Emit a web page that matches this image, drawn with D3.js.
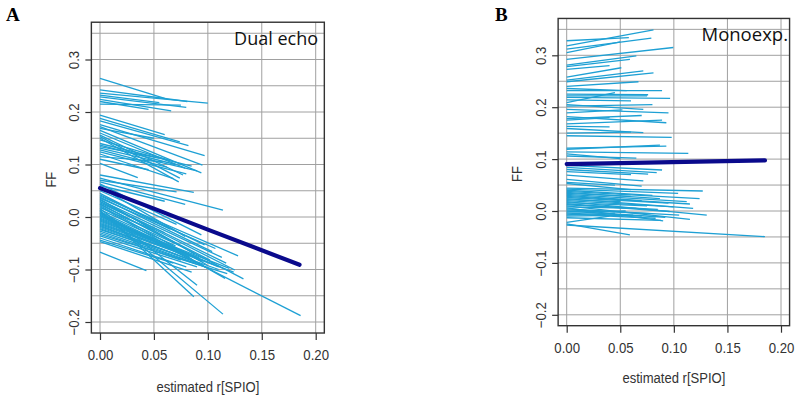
<!DOCTYPE html>
<html><head><meta charset="utf-8">
<script src="https://cdn.jsdelivr.net/npm/d3@7"></script>
<style>body{margin:0;background:#fff}svg{display:block}</style>
</head><body>
<svg id="c" width="800" height="400"></svg>
<script>
// ---------- data ----------
const xTicks = [0, 0.05, 0.10, 0.15, 0.20];
const xTickLabels = ["0.00", "0.05", "0.10", "0.15", "0.20"];
const yTicks = [-0.2, -0.1, 0.0, 0.1, 0.2, 0.3];
const yTickLabels = ["\u22120.2", "\u22120.1", "0.0", "0.1", "0.2", "0.3"];
const gridX = [0, 0.05, 0.10, 0.15, 0.20];
const gridY = [-0.2, -0.15, -0.1, -0.05, 0, 0.05, 0.1, 0.15, 0.2, 0.25, 0.3, 0.35];
const panelLetters = ["A", "B"];
const panelTitles = ["Dual echo", "Monoexp."];
const xTitle = "estimated r[SPIO]";
const yTitle = "FF";

// Panel A individual lines: FF at r=0, end r, end FF
const aStartFF = [0.264,0.242,0.236,0.229,0.224,0.220,0.215,0.232,
 0.194,0.188,0.183,0.176,0.172,0.169,0.165,0.160,0.156,0.153,0.150,0.147,0.140,0.137,0.134,0.131,0.128,0.124,0.120,0.115,0.110,0.102,
 0.080,0.074,0.070,0.067,0.063,0.060,0.057,0.050,
 0.045,0.042,0.040,0.038,0.036,0.034,0.032,0.030,0.029,0.027,0.025,0.024,0.022,0.020,0.018,0.016,0.014,0.013,0.011,0.010,0.008,0.007,0.005,0.003,0.002,0.000,
 -0.002,-0.004,-0.006,-0.008,-0.010,-0.012,-0.014,-0.016,-0.018,-0.020,-0.022,-0.024,-0.027,-0.030,-0.033,-0.036,-0.040,-0.044,-0.047,-0.067];
const aEndR = [0.060,0.081,0.100,0.080,0.066,0.045,0.075,0.055,
 0.060,0.074,0.082,0.097,0.095,0.050,0.094,0.079,0.077,0.074,0.073,0.065,0.085,0.070,0.055,0.090,0.062,0.080,0.068,0.058,0.045,0.035,
 0.087,0.114,0.071,0.079,0.094,0.060,0.079,0.071,
 0.065,0.097,0.128,0.104,0.107,0.088,0.113,0.117,0.125,0.060,0.133,0.102,0.099,0.116,0.050,0.090,0.080,0.087,0.114,0.070,0.095,0.186,0.075,0.110,0.085,0.060,
 0.120,0.092,0.078,0.105,0.066,0.124,0.083,0.096,0.072,0.110,0.088,0.058,0.100,0.075,0.118,0.090,0.080,0.068,0.085,0.043];
const aEndFF = [0.226,0.220,0.217,0.209,0.202,0.205,0.213,0.218,
 0.157,0.143,0.136,0.117,0.099,0.150,0.084,0.093,0.080,0.074,0.067,0.108,0.097,0.100,0.112,0.088,0.095,0.082,0.073,0.105,0.090,0.075,
 0.047,0.013,0.048,0.024,-0.034,0.030,-0.037,-0.014,
 -0.023,-0.053,-0.074,-0.066,-0.060,-0.071,-0.077,-0.088,-0.101,-0.030,-0.118,-0.082,-0.091,-0.117,-0.025,-0.130,-0.060,-0.152,-0.185,-0.055,-0.085,-0.188,-0.070,-0.095,-0.080,-0.050,
 -0.098,-0.078,-0.068,-0.090,-0.062,-0.105,-0.076,-0.092,-0.072,-0.100,-0.088,-0.062,-0.097,-0.082,-0.108,-0.095,-0.095,-0.088,-0.105,-0.102];
const aMeanR = [0, 0.05, 0.10, 0.185];
const aMeanFF = [0.055, 0.016, -0.024, -0.091];

// Panel B individual lines
const bStartFF = [0.328,0.318,0.312,0.305,0.292,0.281,0.278,0.273,0.258,0.252,0.249,0.240,0.236,0.232,0.225,0.222,0.219,0.214,0.209,0.205,0.202,0.196,0.189,0.182,0.178,0.175,0.168,0.163,0.159,0.150,0.145,
 0.121,0.119,0.114,0.110,0.106,
 0.088,0.084,0.080,0.076,0.069,0.061,0.055,0.053,
 0.044,0.042,0.040,0.038,0.036,0.034,0.032,0.030,0.028,0.026,0.024,0.022,0.020,0.018,0.016,0.014,0.012,0.010,0.008,0.006,0.004,0.002,0.000,-0.002,-0.004,-0.006,-0.008,-0.010,-0.013,
 -0.022,-0.025,-0.027];
const bEndR = [0.058,0.081,0.079,0.050,0.0995,0.065,0.059,0.040,0.051,0.0715,0.081,0.067,0.056,0.089,0.076,0.075,0.0965,0.060,0.045,0.0715,0.080,0.095,0.052,0.093,0.070,0.040,0.089,0.040,0.0715,0.060,0.098,
 0.093,0.087,0.1135,0.050,0.065,
 0.089,0.084,0.076,0.060,0.0715,0.070,0.045,0.060,
 0.127,0.104,0.080,0.124,0.087,0.060,0.112,0.070,0.115,0.095,0.118,0.050,0.100,0.1307,0.075,0.096,0.085,0.115,0.065,0.090,0.105,0.078,0.092,0.055,0.070,0.083,0.045,0.062,0.088,
 0.040,0.059,0.185];
const bEndFF = [0.334,0.349,0.333,0.326,0.315,0.299,0.292,0.280,0.276,0.270,0.266,0.249,0.232,0.232,0.224,0.222,0.217,0.212,0.228,0.196,0.205,0.189,0.195,0.170,0.184,0.180,0.175,0.162,0.151,0.152,0.142,
 0.125,0.127,0.111,0.101,0.102,
 0.079,0.074,0.071,0.070,0.058,0.048,0.050,0.041,
 0.0385,0.034,0.030,0.024,0.024,0.028,0.018,0.020,0.0135,0.015,0.005,0.018,0.008,-0.008,0.010,-0.001,0.003,-0.016,0.005,-0.019,-0.008,-0.005,-0.012,0.000,-0.010,-0.014,-0.004,-0.008,-0.018,
 -0.010,-0.046,-0.0495];
const bMeanR = [0, 0.185];
const bMeanFF = [0.0905, 0.0975];

// ---------- drawing ----------
const svg = d3.select("#c");
const LIGHT = "#1ea0d4", DARK = "#0a0a8c", GRID = "#a0a0a0", INK = "#333";

const panels = [
  {start: aStartFF, endR: aEndR, endFF: aEndFF, meanR: aMeanR, meanFF: aMeanFF,
   xr: [100, 315.7], yr: [322, 59.5], letterX: 6, letterY: 21,
   titleX: 318, titleY: 45, titleSize: 18, yLabX: 78.5, yTitX: 55.5, xLabY: 359.5, xTitY: 391.5},
  {start: bStartFF, endR: bEndR, endFF: bEndFF, meanR: bMeanR, meanFF: bMeanFF,
   xr: [566.7, 781], yr: [314.8, 55.3], letterX: 495, letterY: 21,
   titleX: 788, titleY: 41, titleSize: 18.5, yLabX: 545.5, yTitX: 522, xLabY: 352.7, xTitY: 382.7}
];

const axisFont = "'Liberation Sans', Arial, sans-serif";

panels.forEach((p, i) => {
  const x = d3.scaleLinear().domain([0, 0.2]).range(p.xr);
  const y = d3.scaleLinear().domain([-0.2, 0.3]).range(p.yr);
  const bx0 = x(-0.008), bx1 = x(0.208), by0 = y(0.371), by1 = y(-0.221);
  const g = svg.append("g");

  // grid
  g.selectAll(".gx").data(gridX).enter().append("line")
    .attr("x1", d => x(d)).attr("x2", d => x(d)).attr("y1", by0).attr("y2", by1)
    .attr("stroke", GRID).attr("stroke-width", 1);
  g.selectAll(".gy").data(gridY).enter().append("line")
    .attr("y1", d => y(d)).attr("y2", d => y(d)).attr("x1", bx0).attr("x2", bx1)
    .attr("stroke", GRID).attr("stroke-width", 1);

  // individual lines
  const segs = p.start.map((s, k) => [[0, s], [p.endR[k], p.endFF[k]]]);
  const line = d3.line().x(d => x(d[0])).y(d => y(d[1]));
  g.selectAll(".seg").data(segs).enter().append("path")
    .attr("d", line).attr("fill", "none").attr("stroke", LIGHT).attr("stroke-width", 1.3);

  // mean line
  const mean = p.meanR.map((r, k) => [r, p.meanFF[k]]);
  g.append("path").attr("d", line(mean)).attr("fill", "none")
    .attr("stroke", DARK).attr("stroke-width", 4.2).attr("stroke-linecap", "round");

  // box
  g.append("rect").attr("x", bx0).attr("y", by0).attr("width", bx1 - bx0).attr("height", by1 - by0)
    .attr("fill", "none").attr("stroke", INK).attr("stroke-width", 1.4);

  // x axis
  const xa = g.append("g").attr("transform", `translate(0,${by1})`)
    .call(d3.axisBottom(x).tickValues(xTicks).tickSize(7).tickFormat((d, k) => xTickLabels[k]));
  xa.select(".domain").remove();
  xa.selectAll("line").attr("stroke", INK).attr("stroke-width", 1.2);
  xa.selectAll("text").attr("y", null).attr("dy", null)
    .attr("transform", `translate(0,${p.xLabY - by1}) scale(0.88,1)`)
    .attr("font-family", axisFont).attr("font-size", 15).attr("fill", INK);

  // y axis
  const ya = g.append("g").attr("transform", `translate(${bx0},0)`)
    .call(d3.axisLeft(y).tickValues(yTicks).tickSize(6).tickFormat((d, k) => yTickLabels[k]));
  ya.select(".domain").remove();
  ya.selectAll("line").attr("stroke", INK).attr("stroke-width", 1.2);
  ya.selectAll("text").attr("x", null).attr("dy", null).attr("text-anchor", "middle")
    .attr("transform", `translate(${p.yLabX - bx0},0) rotate(-90) scale(0.88,1)`)
    .attr("font-family", axisFont).attr("font-size", 15).attr("fill", INK);

  // titles
  g.append("text").attr("transform", `translate(${(bx0 + bx1) / 2},${p.xTitY}) scale(0.9,1)`)
    .attr("text-anchor", "middle").attr("font-family", axisFont).attr("font-size", 14.5)
    .attr("fill", INK).text(xTitle);
  g.append("text").attr("transform", `translate(${p.yTitX},${(by0 + by1) / 2 + 2}) rotate(-90) scale(0.9,1)`)
    .attr("text-anchor", "middle").attr("font-family", axisFont).attr("font-size", 14.5)
    .attr("fill", INK).text(yTitle);

  g.append("text").attr("x", p.titleX).attr("y", p.titleY).attr("text-anchor", "end")
    .attr("font-family", "'Open Sans', 'Noto Sans', sans-serif").attr("font-size", p.titleSize)
    .attr("fill", "#111").text(panelTitles[i]);

  svg.append("text").attr("x", p.letterX).attr("y", p.letterY)
    .attr("font-family", "'Liberation Serif', 'DejaVu Serif', serif").attr("font-weight", "bold")
    .attr("font-size", 19).attr("fill", "#000").text(panelLetters[i]);
});
</script>
</body></html>
